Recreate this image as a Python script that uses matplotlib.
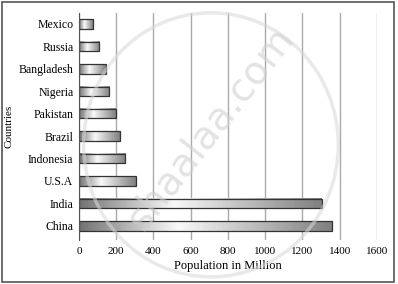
import matplotlib.pyplot as plt
import numpy as np
from matplotlib.patches import Rectangle, Ellipse

# Population data
countries = ['China', 'India', 'U.S.A', 'Indonesia', 'Brazil',
             'Pakistan', 'Nigeria', 'Bangladesh', 'Russia', 'Mexico']
population = [1357, 1303, 306, 249, 220, 197, 163, 145, 109, 73]
xticks = [0, 200, 400, 600, 800, 1000, 1200, 1400, 1600]

plt.rcParams['font.family'] = ['Liberation Serif', 'DejaVu Serif']

fig = plt.figure(figsize=(3.98, 2.84), dpi=100)
ax = fig.add_axes([0.1985, 0.155, 0.7485, 0.80])
ax.set_axisbelow(True)

ypos = np.arange(len(countries))
bars = ax.barh(ypos, population, height=0.42, color='none',
               edgecolor='#333333', linewidth=0.9, zorder=4)

# cylinder-like shading inside each bar
grad = np.concatenate([np.linspace(0.45, 0.97, 100), np.linspace(0.97, 0.5, 156)])
grad = grad.reshape(1, -1)
for b in bars:
    x0, y0, w, h = b.get_x(), b.get_y(), b.get_width(), b.get_height()
    ax.imshow(grad, cmap='gray', vmin=0, vmax=1, aspect='auto',
              extent=[x0, x0 + w, y0, y0 + h], zorder=3,
              interpolation='nearest')

ax.set_xlim(0, 1600)
ax.set_ylim(-0.63, 9.5)
ax.set_xticks(xticks)
ax.set_yticks(ypos)
ax.set_yticklabels(countries, fontsize=8.5)
ax.tick_params(axis='x', labelsize=8, length=0, pad=5)
ax.tick_params(axis='y', length=0, pad=4)
ax.grid(axis='x', color='#aaaaaa', linewidth=1.0)
for s in ['top', 'right', 'bottom']:
    ax.spines[s].set_visible(False)
ax.spines['left'].set_color('#555555')
ax.spines['left'].set_zorder(5)
ax.set_xlabel('Population in Million', fontsize=9, labelpad=3)
ax.set_ylabel('Countries', fontsize=8, labelpad=4)

# watermark
fig.patches.append(Ellipse((0.53, 0.49), 0.64, 0.93, transform=fig.transFigure,
                           fill=False, edgecolor='#d8d8d8', alpha=0.55,
                           linewidth=2.5, zorder=10))
fig.text(0.53, 0.55, 'shaalaa.com', fontsize=28, color='#d0d0d0', alpha=0.6,
         rotation=52, ha='center', va='center', family='DejaVu Sans', zorder=10)

# frame around the figure
fig.patches.append(Rectangle((0.006, 0.008), 0.985, 0.984, transform=fig.transFigure,
                             fill=False, edgecolor='#555555', linewidth=1.2))

plt.savefig('out.png', dpi=100)
